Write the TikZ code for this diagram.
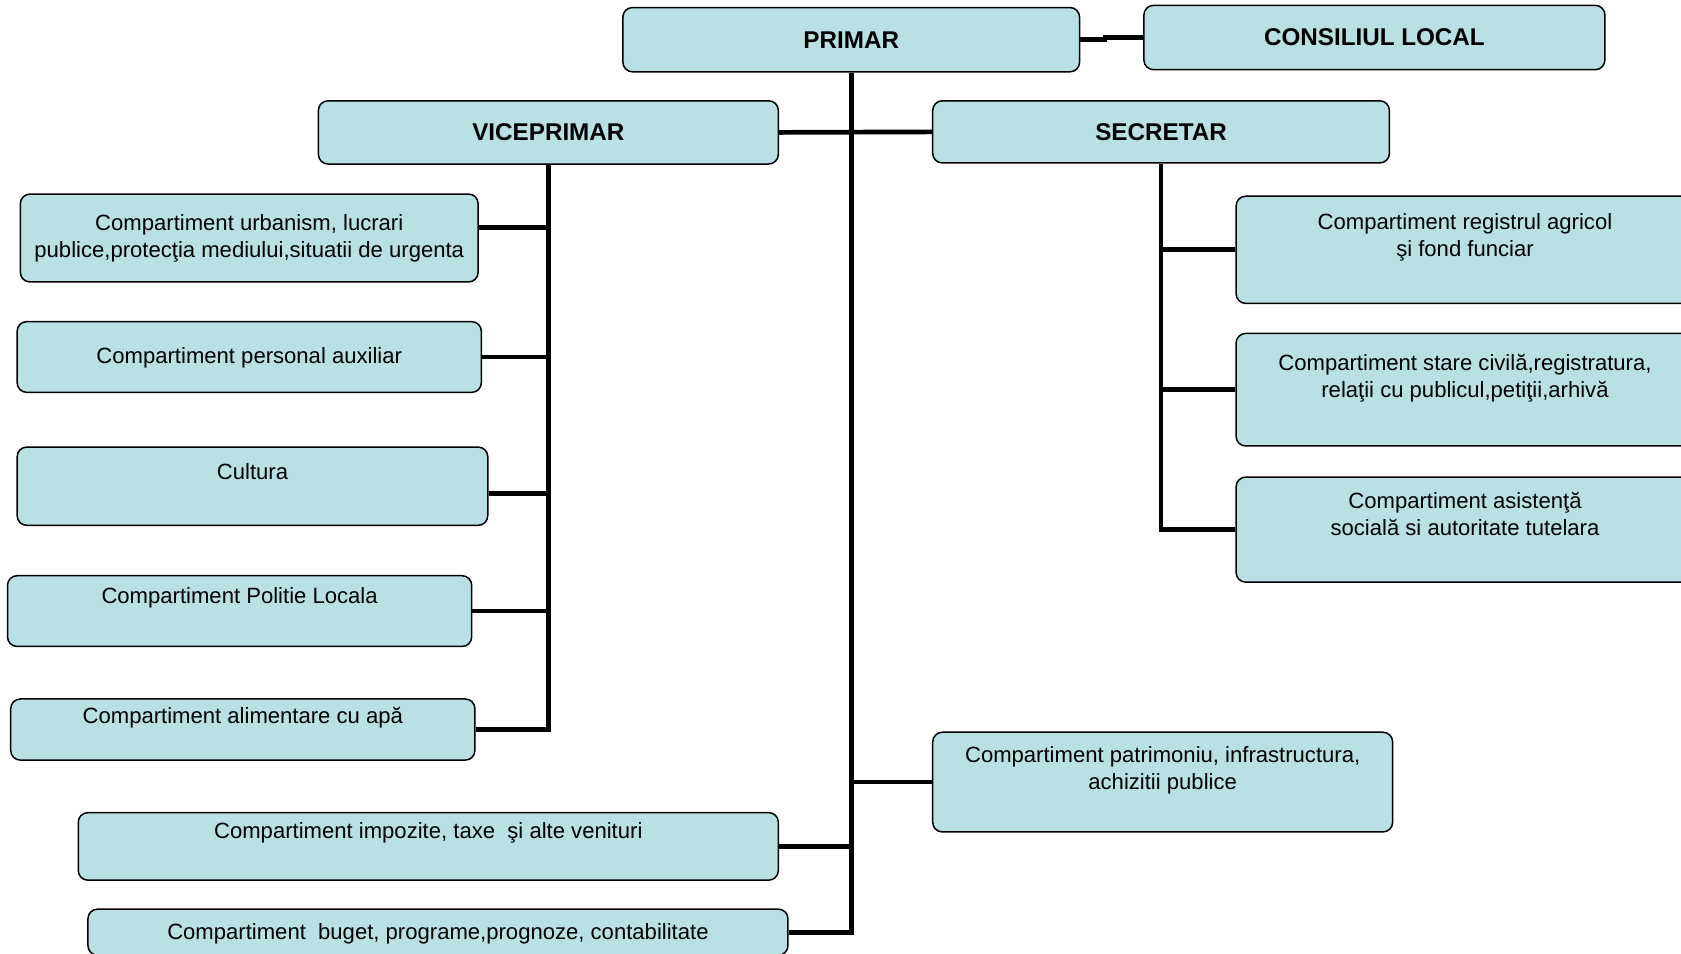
\documentclass[tikz,border=0pt]{standalone}
\usepackage{fontspec}
\setmainfont{Liberation Sans}
\usetikzlibrary{positioning,fit}
\definecolor{boxfill}{RGB}{185,224,227}

\begin{document}
\begin{tikzpicture}[x=0.5pt, y=-0.5pt,
	box/.style={draw, line width=0.7pt, fill=boxfill, rounded corners=4.5pt, inner sep=0pt},
	headtxt/.style={inner sep=0pt, font=\fontsize{11.3}{13}\selectfont\bfseries},
	txt/.style={align=center, inner sep=0pt, font=\fontsize{10.3}{12.5}\selectfont},
	link/.style={line width=2.2pt}]
	\useasboundingbox (0,0) rectangle (1568,889);

	% Nodes {primar, consiliu, vice, sec}
	\node [box, fit={(581,7) (1007,67)}, label={[headtxt]center:PRIMAR}]              (primar)   {};
	\node [box, fit={(1067,5) (1497,65)}, label={[headtxt]center:CONSILIUL LOCAL}]    (consiliu) {};
	\node [box, fit={(297,94) (726,153)}, label={[headtxt]center:VICEPRIMAR}]         (vice)     {};
	\node [box, fit={(870,94) (1296,152)}, label={[headtxt]center:SECRETAR}]          (sec)      {};

	% Compartimente viceprimar
	\node [box, fit={(19,181) (446,263)}]      (urb)   {};
	\node [box, fit={(16,300) (449,366)}]      (pers)  {};
	\node [box, fit={(16,417) (455,490)}]      (cult)  {};
	\node [box, fit={(7,537) (440,603)}]       (pol)   {};
	\node [box, fit={(10,652) (443,709)}]      (alim)  {};

	% Compartimente secretar
	\node [box, fit={(1153,183) (1580,283)}]   (reg)   {};
	\node [box, fit={(1153,311) (1580,416)}]   (civ)   {};
	\node [box, fit={(1153,445) (1580,543)}]   (asist) {};

	% Compartimente primar
	\node [box, fit={(870,683) (1299,776)}]    (patr)  {};
	\node [box, fit={(73,758) (726,821)}]      (impoz) {};
	\node [box, fit={(82,848) (735,891)}]      (buget) {};

	% Texts
	\node [txt, below=9.8pt of urb.north]    (urbT)   {Compartiment urbanism, lucrari\\publice,protecţia mediului,situatii de urgenta};
	\node [txt, below=12.3pt of pers.north]  (persT)  {Compartiment personal auxiliar};
	\node [txt, below=7.8pt of cult.north]   (cultT)  {Cultura};
	\node [txt, below=5.8pt of pol.north]    (polT)   {Compartiment Politie Locala};
	\node [txt, below=3.8pt of alim.north]   (alimT)  {Compartiment alimentare cu apă};
	\node [txt, below=8.3pt of reg.north]    (regT)   {Compartiment registrul agricol\\şi fond funciar};
	\node [txt, below=9.8pt of civ.north]    (civT)   {Compartiment stare civilă,registratura,\\relaţii cu publicul,petiţii,arhivă};
	\node [txt, below=7.3pt of asist.north]  (asistT) {Compartiment asistenţă\\socială si autoritate tutelara};
	\node [txt, below=6.8pt of patr.north]   (patrT)  {Compartiment patrimoniu, infrastructura,\\achizitii publice};
	\node [txt, below=4.8pt of impoz.north]  (impozT) {Compartiment impozite, taxe\ \ şi alte venituri};
	\node [txt, below=6.8pt of buget.north]  (bugetT) {Compartiment\ \ buget, programe,prognoze, contabilitate};

	% Paths
	\draw [link] (primar.east) -- ++(23,0) |- (consiliu.west);
	\draw [link] (primar.south) |- (buget.east);
	\draw [link] (vice.east) -- (sec.west);
	\draw [link] (impoz.east) -- (impoz.east -| primar.south);
	\draw [link] (patr.west) -- (patr.west -| primar.south);

	\draw [link] (vice.south) |- (alim.east);
	\draw [link] ([yshift=5pt]urb.east) -- ([yshift=5pt]urb.east -| vice.south);
	\draw [link] (pers.east) -- (pers.east -| vice.south);
	\draw [link] ([yshift=-3.25pt]cult.east) -- ([yshift=-3.25pt]cult.east -| vice.south);
	\draw [link] (pol.east) -- (pol.east -| vice.south);

	\draw [link] (sec.south) |- (asist.west);
	\draw [link] (reg.west) -- (reg.west -| sec.south);
	\draw [link] (civ.west) -- (civ.west -| sec.south);
\end{tikzpicture}
\end{document}
